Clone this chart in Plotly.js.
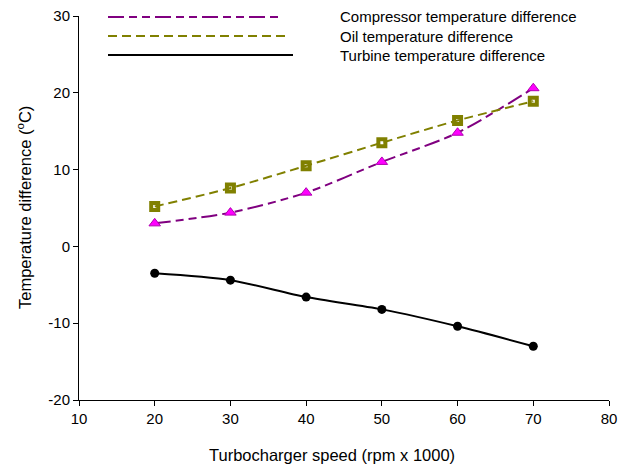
<!DOCTYPE html>
<html>
<head>
<meta charset="utf-8">
<script src="https://cdn.plot.ly/plotly-3.0.1.min.js"></script>
<style>html,body{margin:0;padding:0;background:#fff;}#chart{width:622px;height:468px;}</style>
</head>
<body>
<div id="chart"></div>
<script>
const speed = [20, 30, 40, 50, 60, 70];
const compressorDiff = [3.0, 4.4, 7.0, 11.0, 14.8, 20.6];
const oilDiff = [5.2, 7.6, 10.5, 13.5, 16.4, 18.9];
const turbineDiff = [-3.5, -4.4, -6.6, -8.2, -10.4, -13.0];
const seriesNames = ["Compressor temperature difference", "Oil temperature difference", "Turbine temperature difference"];
const xTicks = [10, 20, 30, 40, 50, 60, 70, 80];
const yTicks = [-20, -10, 0, 10, 20, 30];
const xTitle = "Turbocharger speed (rpm x 1000)";
const yTitle = "Temperature difference (<sup>o</sup>C)";

const FONT = "Liberation Sans, Arial, sans-serif";
const compDash = "16px,5px,8px,5px,8px,5px";
const oilDash = "9px,5px";

const traces = [
  {x: speed, y: compressorDiff, name: seriesNames[0], type: "scatter", mode: "lines+markers",
   line: {color: "#800080", width: 2, dash: compDash, shape: "spline", smoothing: 0.8},
   marker: {symbol: "triangle-up", size: 10, color: "#FF00FF", line: {color: "#B000B0", width: 1}},
   showlegend: false},
  {x: speed, y: oilDiff, name: seriesNames[1], type: "scatter", mode: "lines+markers",
   line: {color: "#808000", width: 2, dash: oilDash, shape: "spline", smoothing: 0.8},
   marker: {symbol: "square-open", size: 7, color: "#808000", line: {color: "#808000", width: 4}},
   showlegend: false},
  {x: speed, y: turbineDiff, name: seriesNames[2], type: "scatter", mode: "lines+markers",
   line: {color: "#000000", width: 2, shape: "spline", smoothing: 0.8},
   marker: {symbol: "circle", size: 9, color: "#000000"},
   showlegend: false}
];

function px2x(p){ return (p - 79) / 530; }
function py2y(p){ return (400 - p) / 384; }
const legendRows = [
  {y: 17, x1: 108, x2: 283, color: "#800080", dash: compDash},
  {y: 36, x1: 108, x2: 290, color: "#808000", dash: oilDash},
  {y: 55, x1: 108, x2: 293, color: "#000000", dash: "solid"}
];
const shapes = legendRows.map(r => ({
  type: "line", xref: "paper", yref: "paper",
  x0: px2x(r.x1), x1: px2x(r.x2), y0: py2y(r.y), y1: py2y(r.y),
  line: {color: r.color, width: 2, dash: r.dash}
}));
const annotations = legendRows.map((r, i) => ({
  xref: "paper", yref: "paper", x: px2x(338), y: py2y(r.y),
  xanchor: "left", yanchor: "middle", showarrow: false,
  text: seriesNames[i], font: {family: FONT, size: 15, color: "#000"}
}));
annotations.push({
  xref: "paper", yref: "paper", x: px2x(332), y: py2y(455),
  xanchor: "center", yanchor: "middle", showarrow: false,
  text: xTitle, font: {family: FONT, size: 16.5, color: "#000"}
});
annotations.push({
  xref: "paper", yref: "paper", x: px2x(24), y: py2y(208),
  xanchor: "center", yanchor: "middle", showarrow: false, textangle: -90,
  text: yTitle, font: {family: FONT, size: 16.5, color: "#000"}
});

const layout = {
  width: 622, height: 468,
  margin: {l: 79, r: 13, t: 16, b: 68},
  paper_bgcolor: "#fff", plot_bgcolor: "#fff",
  font: {family: FONT, size: 15, color: "#000"},
  showlegend: false,
  xaxis: {
    range: [10, 80], tickvals: xTicks, ticktext: xTicks.map(String),
    showgrid: false, zeroline: false, showline: true, linecolor: "#000", linewidth: 1,
    ticks: "outside", ticklen: 5, tickcolor: "#000", tickfont: {family: FONT, size: 15}
  },
  yaxis: {
    range: [-20, 30], tickvals: yTicks, ticktext: yTicks.map(String),
    showgrid: false, zeroline: false, showline: true, linecolor: "#000", linewidth: 1,
    ticks: "outside", ticklen: 5, tickcolor: "#000", tickfont: {family: FONT, size: 15}
  },
  shapes: shapes,
  annotations: annotations
};

Plotly.newPlot("chart", traces, layout, {displayModeBar: false, staticPlot: true});
</script>
</body>
</html>
